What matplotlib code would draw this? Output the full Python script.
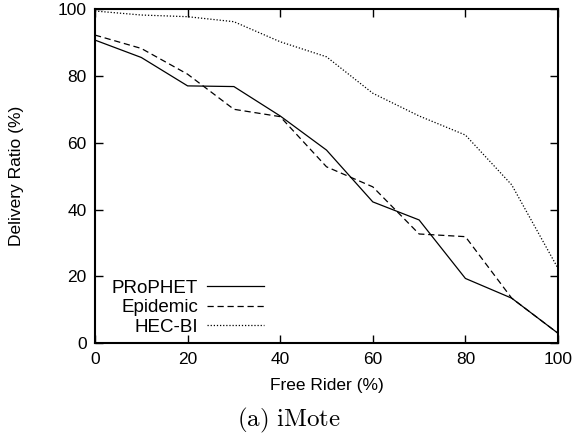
import matplotlib
matplotlib.use("Agg")
import matplotlib.pyplot as plt

free_rider = [0, 10, 20, 30, 40, 50, 60, 70, 80, 90, 100]
prophet = [90.7, 85.5, 77.0, 76.8, 68.0, 57.8, 42.3, 36.9, 19.4, 13.5, 3.0]
epidemic = [92.2, 88.2, 80.5, 70.0, 67.8, 52.8, 46.8, 32.7, 31.9, 13.5, 3.0]
hecbi = [99.4, 98.2, 97.7, 96.2, 90.2, 85.7, 74.8, 68.0, 62.3, 47.4, 22.4]
ticks = [0, 20, 40, 60, 80, 100]

plt.rcParams['font.family'] = ['Liberation Sans', 'DejaVu Sans']
plt.rcParams['mathtext.fontset'] = 'cm'

fig = plt.figure(figsize=(5.78, 4.41), dpi=100)
ax = fig.add_axes([95/578, 1-343.3/441, (558-95)/578, (343.3-9)/441])

ax.plot(free_rider, prophet, color='black', lw=0.9, linestyle='-', label='PRoPHET')
ax.plot(free_rider, epidemic, color='black', lw=0.9, linestyle=(0, (5, 3)), label='Epidemic')
ax.plot(free_rider, hecbi, color='black', lw=0.9, linestyle=(0, (1, 1.5)), label='HEC-BI')

ax.set_xlim(0, 100)
ax.set_ylim(0, 100)
ax.set_xticks(ticks)
ax.set_yticks(ticks)
ax.tick_params(direction='in', length=6, width=1, top=True, right=True, labelsize=12.5, pad=6)
for s in ax.spines.values():
    s.set_linewidth(1.5)

ax.set_xlabel('Free Rider (%)', fontsize=12.5, labelpad=8)
ax.set_ylabel('Delivery Ratio (%)', fontsize=12.5, labelpad=24)

leg = ax.legend(loc='lower left', bbox_to_anchor=(0.02, 0.0), markerfirst=False, frameon=False,
                fontsize=13.5, handlelength=3.0, handletextpad=0.5, labelspacing=0.12,
                borderaxespad=0.0)
for t in leg.get_texts():
    t.set_ha('right')
leg._legend_box.align = 'right'

fig.text(0.5, 1-420/441, r'$\mathrm{(a)\ iMote}$', ha='center', va='center', fontsize=18)

fig.savefig('out.png', dpi=100)
